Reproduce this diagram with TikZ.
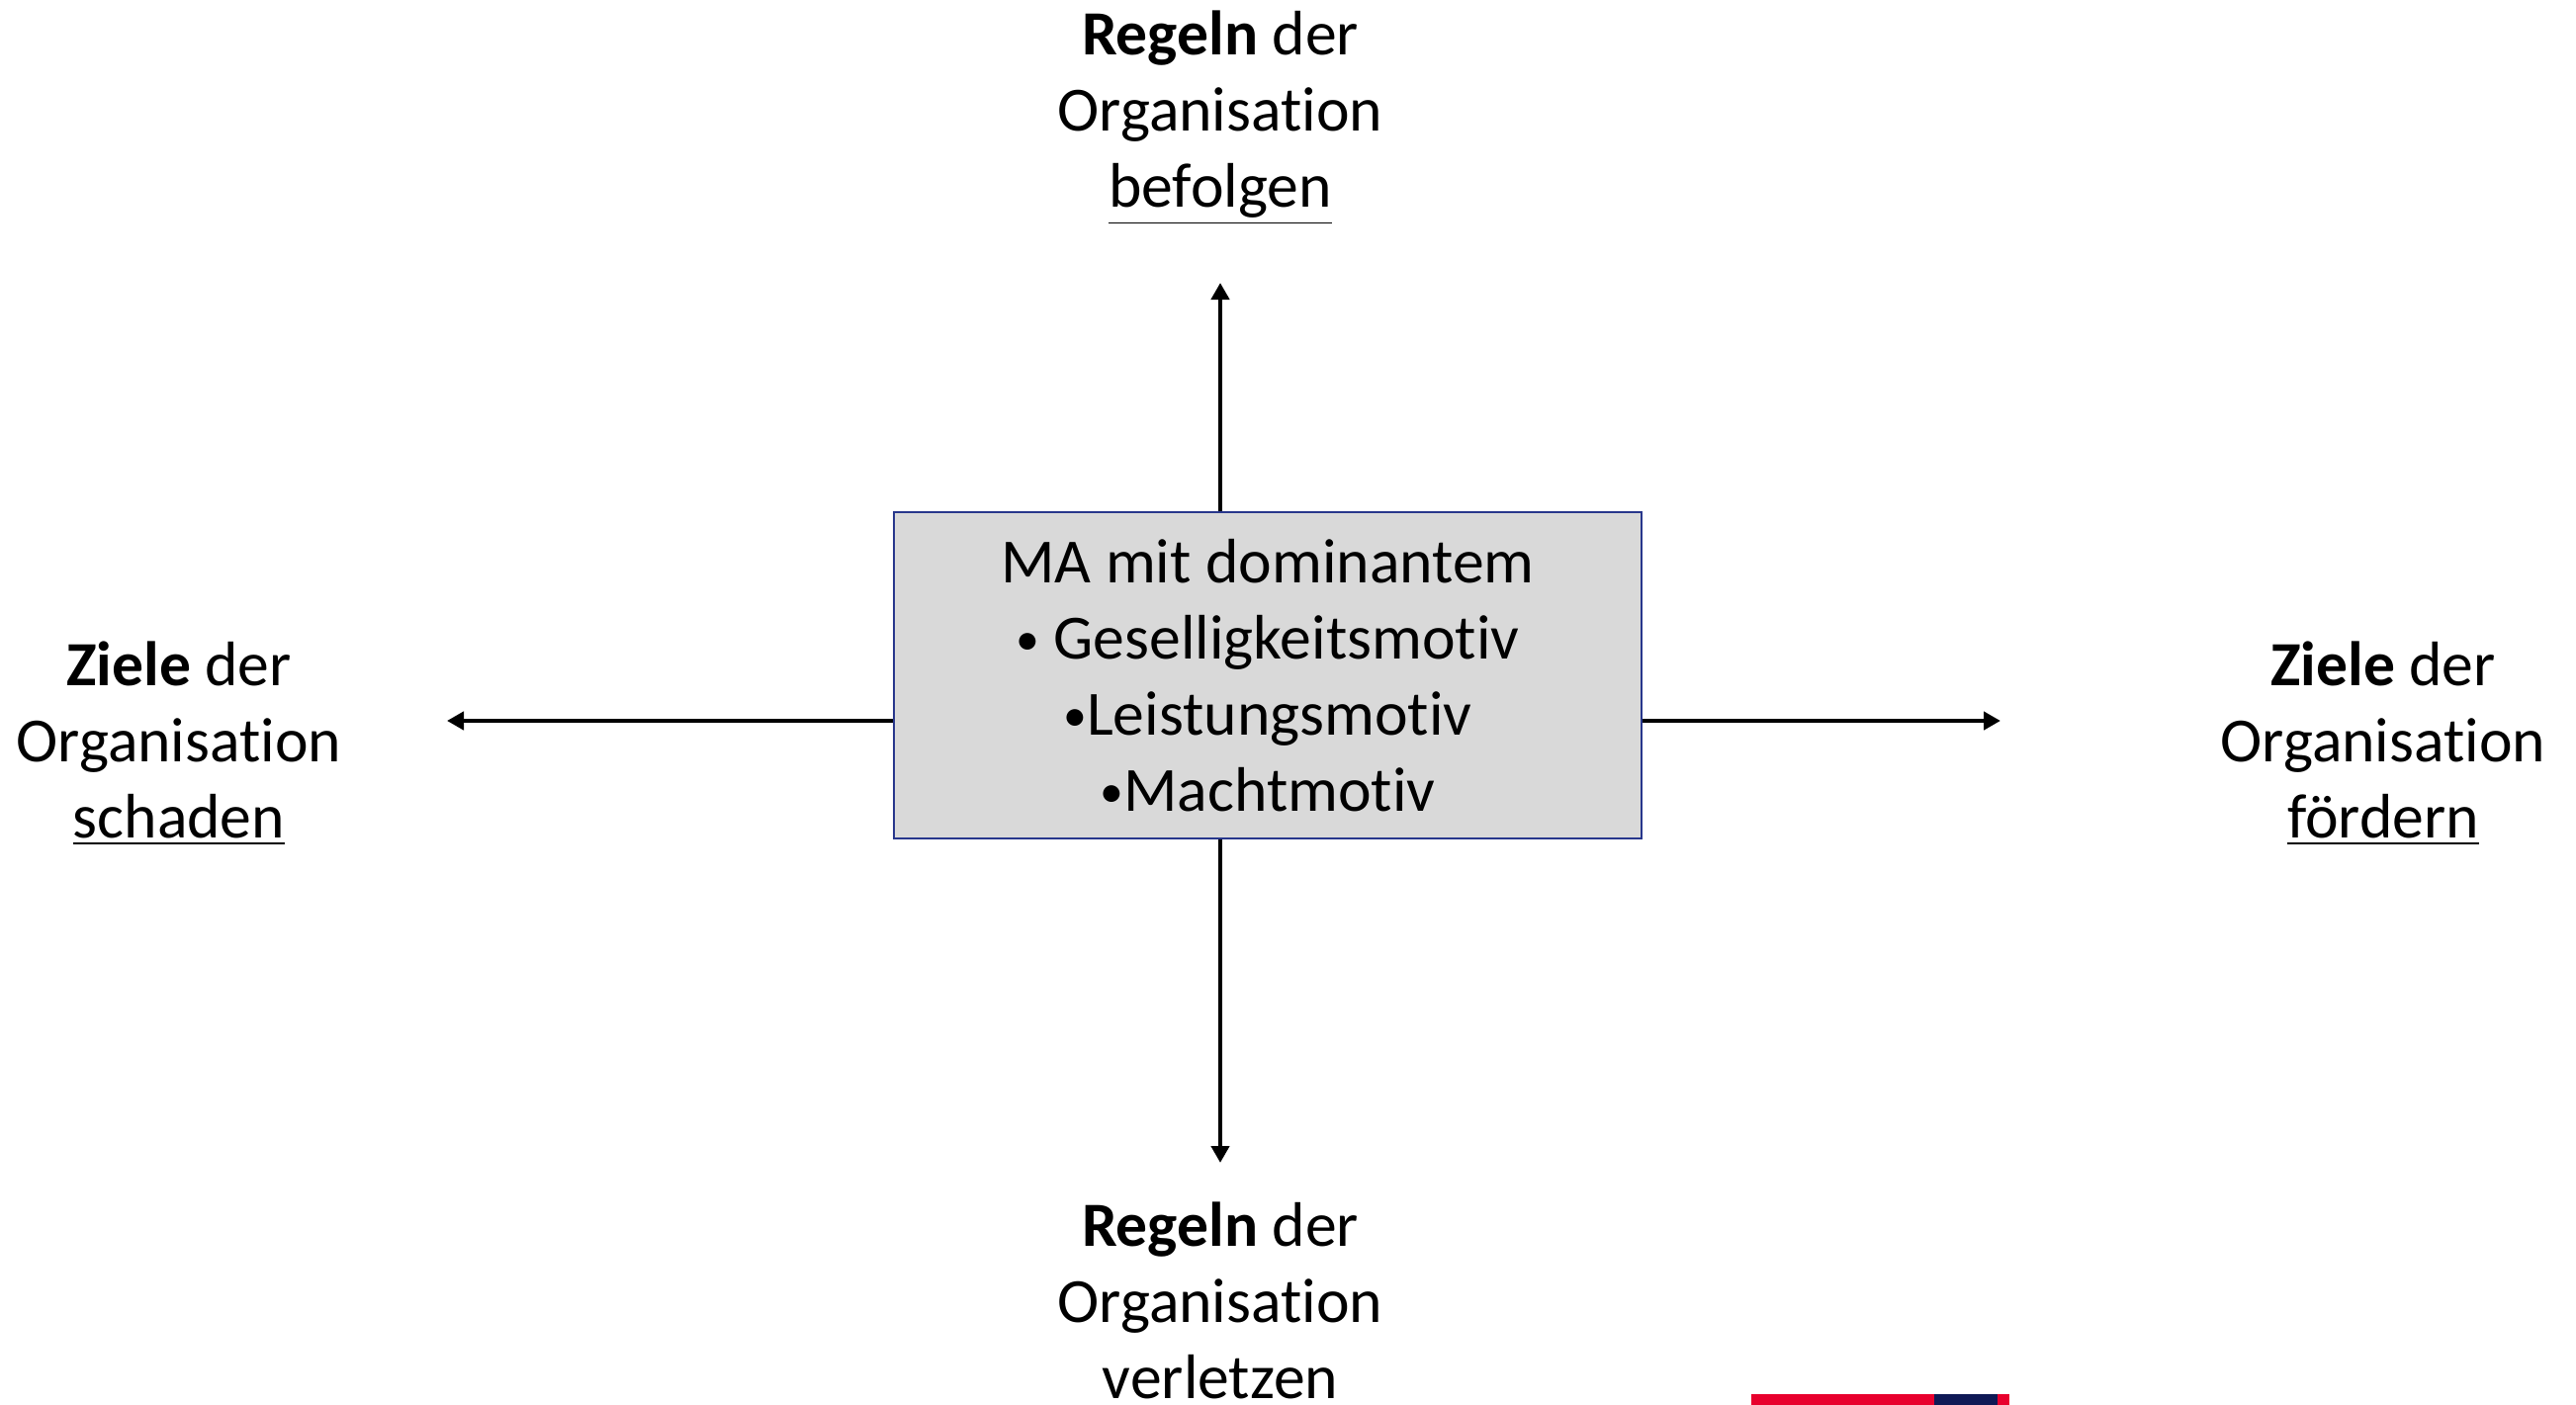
\documentclass[tikz,border=0pt]{standalone}
\usepackage{fontspec}
\setmainfont{Carlito}[Ligatures=NoCommon]
\usetikzlibrary{arrows.meta}

\definecolor{boxgrau}{RGB}{217,217,217}
\definecolor{boxblau}{RGB}{40,55,140}
\definecolor{balkenrot}{RGB}{232,0,45}
\definecolor{balkenblau}{RGB}{15,25,85}

\newcommand{\punkt}{\raisebox{0.06em}{\scalebox{0.75}{\textbullet}}}

\tikzset{
  beschrift/.style = {align=center, font=\fontsize{18.1}{21.9}\selectfont},
  pfeil/.style = {-{Triangle[length=1.7mm,width=1.8mm]}, line width=1.4pt},
}

\begin{document}
\begin{tikzpicture}[x=0.01cm,y=-0.01cm]
\useasboundingbox (0,0) rectangle (2605,1421);

\node (mitte) at (1282,683)[draw=boxblau, fill=boxgrau, line width=0.6pt, minimum width=7.56cm, minimum height=3.29cm, beschrift]
  {MA mit dominantem\\\punkt{} Geselligkeitsmotiv\\\punkt Leistungsmotiv\\\punkt Machtmotiv};

\coordinate (oben) at (1234,286);
\coordinate (unten) at (1234,1176);
\coordinate (links) at (452,729);
\coordinate (rechts) at (2023,729);

\draw[pfeil] (oben |- mitte.north) -- (oben);
\draw[pfeil] (unten |- mitte.south) -- (unten);
\draw[pfeil] (links -| mitte.west) -- (links);
\draw[pfeil] (rechts -| mitte.east) -- (rechts);

\node (regelnoben) at (1234,119)[beschrift]{\textbf{Regeln} der\\Organisation\\\underline{befolgen}};
\node (regelnunten) at (1234,1315)[beschrift]{\textbf{Regeln} der\\Organisation\\verletzen};
\node (zielelinks) at (181,752)[beschrift]{\textbf{Ziele} der\\Organisation\\\underline{schaden}};
\node (zielerechts) at (2410,752)[beschrift]{\textbf{Ziele} der\\Organisation\\\underline{fördern}};

% Balken unten rechts
\fill[balkenrot] (1771,1410) rectangle (2032,1421);
\fill[balkenblau] (1956,1410) rectangle (2020,1421);

\end{tikzpicture}
\end{document}
